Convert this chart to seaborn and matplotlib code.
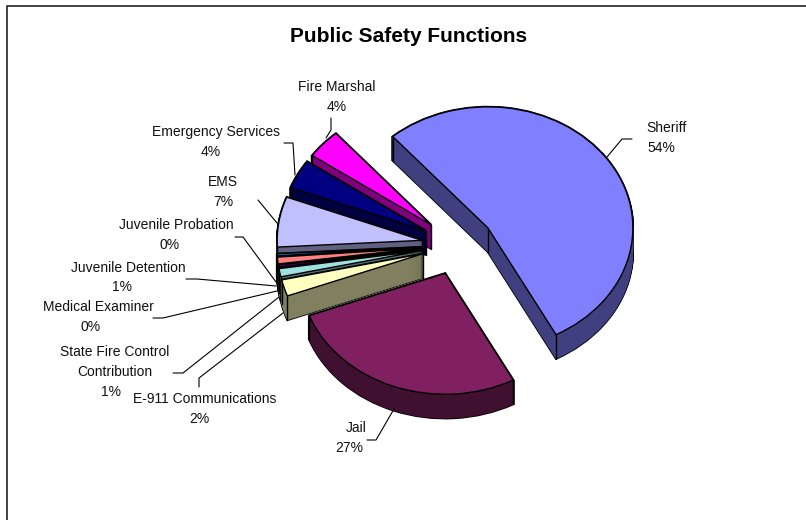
import numpy as np
import seaborn as sns
import matplotlib
matplotlib.use("Agg")
import matplotlib.pyplot as plt

functions = ["Sheriff", "Jail", "E-911 Communications", "State Fire Control\nContribution",
             "Medical Examiner", "Juvenile Detention", "Juvenile Probation", "EMS",
             "Emergency Services", "Fire Marshal"]
shares = [53.6, 27.1, 2.2, 1.1, 0.3, 0.9, 0.3, 6.7, 3.9, 3.9]
top_colors = ["#8080FF", "#802060", "#FFFFC0", "#A0E0E0", "#600080",
              "#FF8080", "#0080C0", "#C0C0FF", "#000080", "#FF00FF"]

# layout in pixels of the 806x520 picture
cx, cy, rx, ry = 458, 245, 145, 121
depth = 24
# back to front
draw_order = [0, 9, 8, 7, 6, 5, 4, 3, 2, 1]
label_xy = [(667, 128), (356, 428), (205, 399), (115, 362), (98, 307),
            (128, 268), (176, 225), (223, 182), (216, 132), (337, 87)]
pct_xy = [(661, 148), (349, 448), (199, 419), (111, 392), (91, 327),
          (122, 287), (170, 245), (223, 202), (211, 152), (337, 107)]
leaders = [
    [(607, 157), (622, 139), (632, 139)],
    [(394, 409), (376, 440), (367, 440)],
    [(283, 313), (199, 378), (199, 387)],
    [(279, 297), (183, 373), (173, 373)],
    [(277, 291), (163, 318), (153, 318)],
    [(276, 286), (197, 279), (186, 279)],
    [(276, 282), (243, 237), (235, 237)],
    [(277, 223), (258, 200)],
    [(295, 175), (293, 143), (284, 143)],
    [(326, 138), (331, 130), (331, 118)],
]

sns.set_theme(style="white")
plt.rcParams["font.family"] = ["Liberation Sans", "DejaVu Sans"]
faces = sns.color_palette(top_colors)
side_colors = [tuple(c * 0.5 for c in f) for f in faces]


def data_xy(px, py):
    return (px - cx) / rx, (cy - py) / ry


fig, ax = plt.subplots(figsize=(8.06, 5.2), dpi=100)
fig.subplots_adjust(0, 0, 1, 1)
explode = [0.25] * len(shares)
rank = {s: n for n, s in enumerate(draw_order)}
kw = dict(explode=explode, startangle=131, counterclock=False, normalize=True)

# extruded walls: black silhouette first, then fill
for step in range(depth, -1, -1):
    off = step / ry
    wedges, _ = ax.pie(shares, center=(0, -off), colors=["black"] * 10,
                       wedgeprops=dict(linewidth=1.6, edgecolor="black"), **kw)
    for i, w in enumerate(wedges):
        w.set_zorder(10 + rank[i] * 10)
    wedges, _ = ax.pie(shares, center=(0, -off), colors=side_colors,
                       wedgeprops=dict(linewidth=0.4), **kw)
    for i, w in enumerate(wedges):
        w.set_edgecolor(side_colors[i])
        w.set_zorder(11 + rank[i] * 10)

wedges, _ = ax.pie(shares, colors=faces,
                   wedgeprops=dict(linewidth=1.0, edgecolor="black"), **kw)
for i, w in enumerate(wedges):
    w.set_zorder(13 + rank[i] * 10)
    x0, y0 = w.center
    corners = [(x0, y0)]
    for th in (w.theta1, w.theta2):
        corners.append((x0 + w.r * np.cos(np.radians(th)), y0 + w.r * np.sin(np.radians(th))))
    for xc, yc in corners:
        ax.plot([xc, xc], [yc, yc - depth / ry], color="black", lw=1.0, zorder=12 + rank[i] * 10)

for i, name in enumerate(functions):
    pct = f"{shares[i]:.0f}%"
    x, y = data_xy(*label_xy[i])
    ax.text(x, y, name, ha="center", va="center", fontsize=10, color="#111111",
            linespacing=1.5, zorder=300)
    x, y = data_xy(*pct_xy[i])
    ax.text(x, y, pct, ha="center", va="center", fontsize=10, color="#111111", zorder=300)
    pts = np.array([data_xy(*p) for p in leaders[i]])
    ax.plot(pts[:, 0], pts[:, 1], color="black", lw=0.8, zorder=300)

x, y = data_xy(409, 36)
ax.text(x, y, "Public Safety Functions", ha="center", va="center",
        fontsize=15, fontweight="bold", color="black", zorder=300)

# chart area border, only left and top fall inside the picture
pts = np.array([data_xy(*p) for p in [(7, 520), (7, 6), (806, 6)]])
ax.plot(pts[:, 0], pts[:, 1], color="#222222", lw=1.2, zorder=300)

ax.set_aspect("auto")
ax.set_xlim(-cx / rx, (806 - cx) / rx)
ax.set_ylim((cy - 520) / ry, cy / ry)
ax.axis("off")
fig.savefig("out.png", dpi=100, facecolor="white")
